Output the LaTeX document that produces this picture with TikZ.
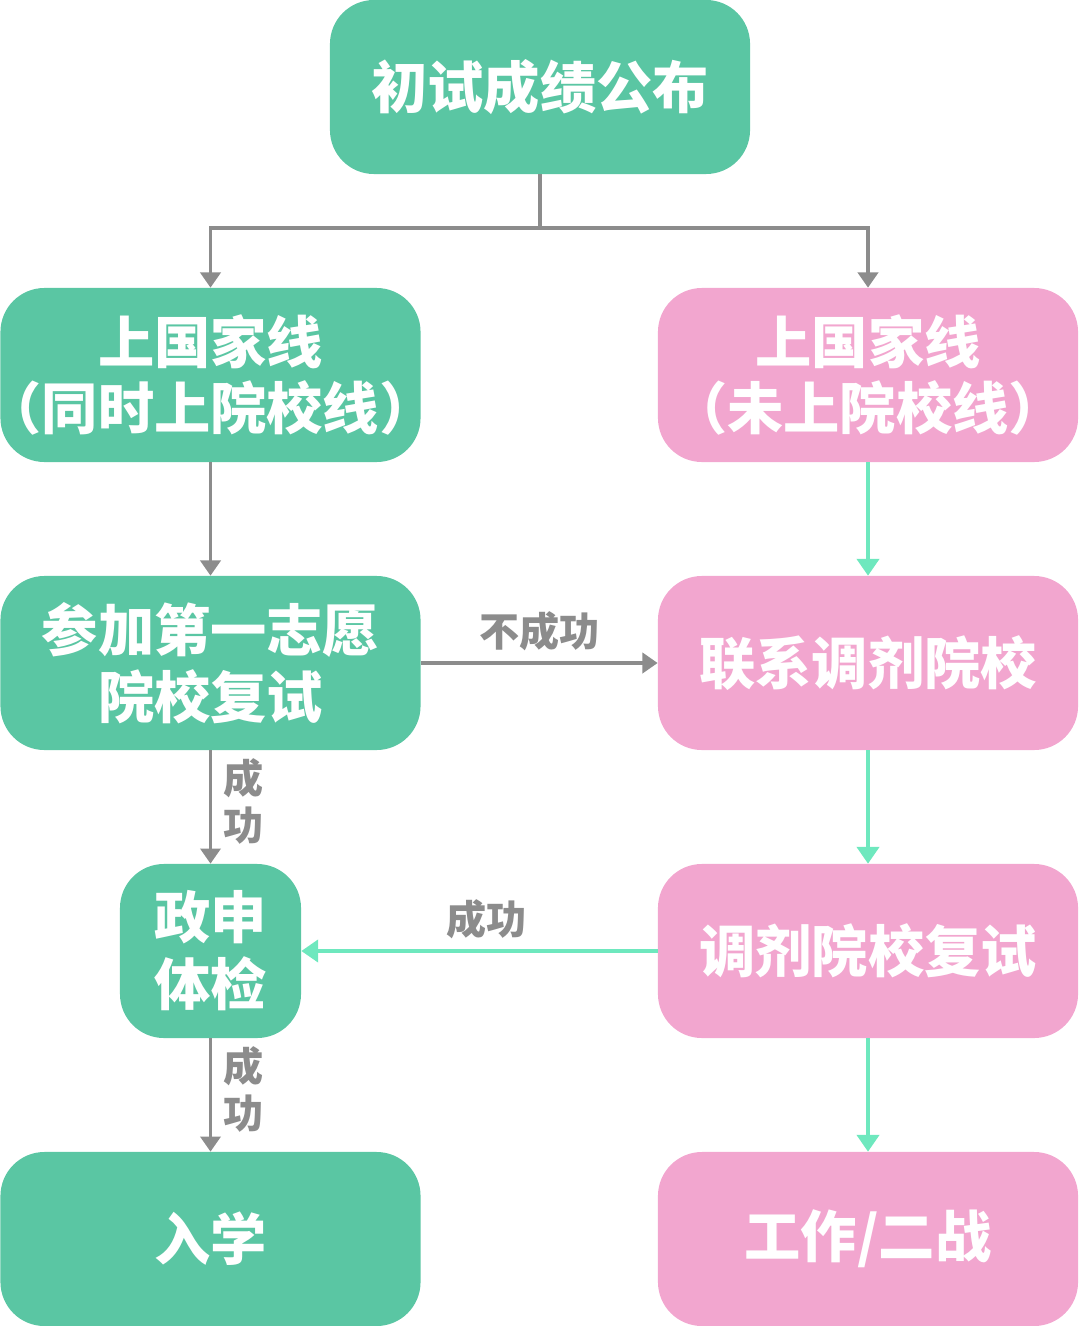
\documentclass[tikz,border=0pt]{standalone}
\usepackage{fontspec}
\newfontfamily\cjk{Noto Sans CJK SC}
\usepackage{xcolor}
\definecolor{green}{HTML}{5AC6A3}
\definecolor{pink}{HTML}{F2A6CF}
\definecolor{gray}{HTML}{8C8C8C}
\definecolor{mint}{HTML}{6EE8BE}
\usetikzlibrary{arrows.meta}

\begin{document}
\begin{tikzpicture}[x=0.025cm, y=-0.025cm,
  every node/.style={font=\cjk\bfseries},
  box/.style={rounded corners=1.1cm, inner sep=0pt, minimum width=10.5cm, minimum height=4.35cm, text=white, align=center, font=\cjk\bfseries\fontsize{40}{47.6}\selectfont},
  tag/.style={text=gray, inner sep=0pt, align=center, font=\cjk\bfseries\fontsize{28.5}{34}\selectfont},
  grayline/.style={draw=gray, line width=2.6pt},
  grayarrow/.style={grayline, -{Triangle[width=0.5cm, length=0.38cm]}},
  mintarrow/.style={draw=mint, line width=2.8pt, -{Triangle[width=0.55cm, length=0.42cm]}}]
  \useasboundingbox (0,0) rectangle (1080,1326);
  % Results and the two lines
  \node[box, fill=green] (notice) at (540,87) {初试成绩公布};
  \node[box, fill=green] (bothline) at (210.5,375) {上国家线\\\kern-0.32em（同时上院校线）\kern-0.32em};
  \node[box, fill=pink] (stateline) at (868,375) {上国家线\\（未上院校线）};
  % Retests
  \node[box, fill=green] (firstretest) at (210.5,663) {参加第一志愿\\院校复试};
  \node[box, fill=pink] (adjust) at (868,663) {联系调剂院校};
  \node[box, fill=green, minimum width=4.525cm] (check) at (210.5,951) {政申\\体检};
  \node[box, fill=pink] (adjustretest) at (868,951) {调剂院校复试};
  % Outcomes
  \node[box, fill=green] (enrol) at (210.5,1239) {入学};
  \node[box, fill=pink] (work) at (868,1239) {工作/二战};
  % Connectors
  \coordinate (fork) at (540,228);
  \draw[grayline] (notice) -- (fork);
  \draw[grayarrow] (fork) -| (bothline.north);
  \draw[grayarrow] (fork) -| (stateline.north);
  \draw[grayarrow] (bothline) -- (firstretest);
  \draw[grayarrow] (firstretest) -- node[tag, midway, above=7pt] {不成功} (adjust);
  \draw[grayarrow] (firstretest) -- node[tag, midway, right=8pt, yshift=4pt] {成\\功} (check);
  \draw[grayarrow] (check) -- node[tag, midway, right=8pt, yshift=4pt] {成\\功} (enrol);
  \draw[mintarrow] (stateline) -- (adjust);
  \draw[mintarrow] (adjust) -- (adjustretest);
  \draw[mintarrow] (adjustretest) -- node[tag, midway, above=7pt, xshift=5pt] {成功} (check);
  \draw[mintarrow] (adjustretest) -- (work);
\end{tikzpicture}
\end{document}
